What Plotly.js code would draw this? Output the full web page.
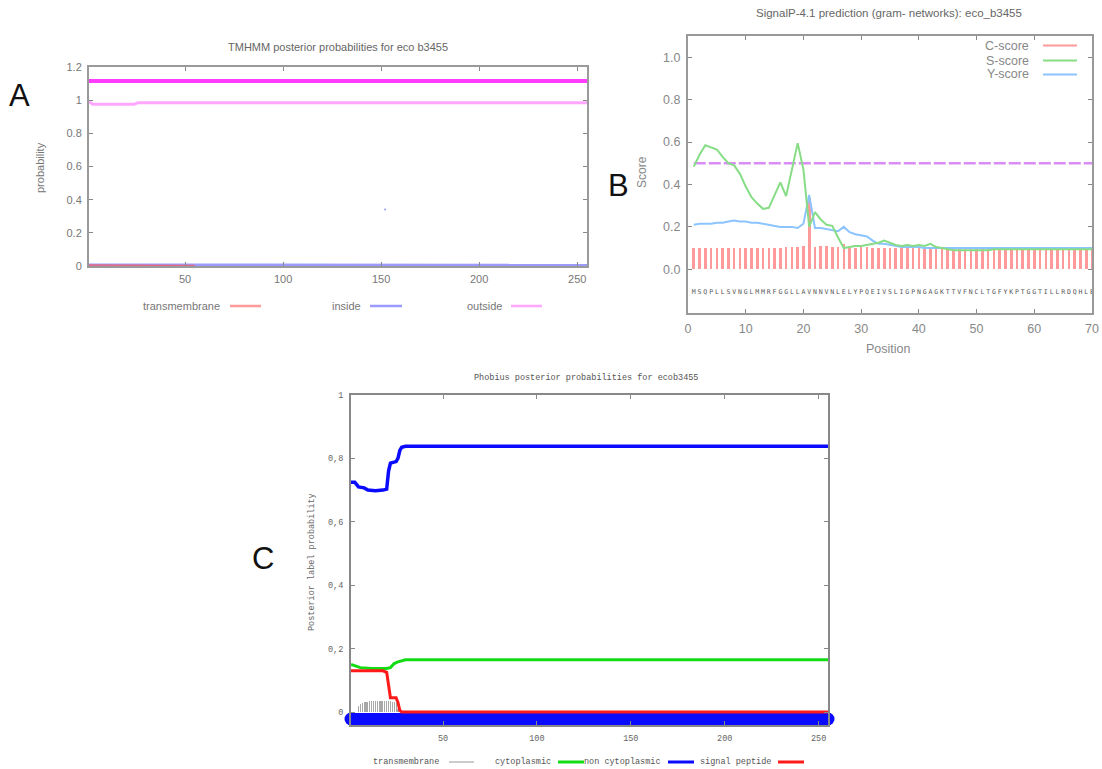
<!DOCTYPE html>
<html>
<head>
<meta charset="utf-8">
<script src="https://cdn.plot.ly/plotly-3.0.1.min.js"></script>
<style>html,body{margin:0;padding:0;background:#fff}#chart{width:1102px;height:769px}</style>
</head>
<body>
<div id="chart"></div>
<script>
// ---------- Panel A: TMHMM ----------
const tmhmmTitle = "TMHMM posterior probabilities for eco b3455";
const tmhmmNames = ["transmembrane", "inside", "outside"];
const tmhmmTopX = [1, 255];
const tmhmmTopY = [1.115, 1.115];
const outsideX = [1, 2, 3, 24, 26, 255];
const outsideY = [0.99, 0.98, 0.975, 0.975, 0.985, 0.985];
const insideX = [1, 25, 26, 255];
const insideY = [0.006, 0.006, 0.004, 0.004];
const tmX = [1, 25, 26, 55];
const tmY = [0.004, 0.004, 0.002, 0.001];
const strayX = [152];
const strayY = [0.34];
const tmhmmXTicks = [50, 100, 150, 200, 250];
const tmhmmYTicks = [0, 0.2, 0.4, 0.6, 0.8, 1, 1.2];
const tmhmmYTickText = ["0", "0.2", "0.4", "0.6", "0.8", "1", "1.2"];

// ---------- Panel B: SignalP ----------
const signalpTitle = "SignalP-4.1 prediction (gram- networks): eco_b3455";
const seqLetters = "MSQPLLSVNGLMMRFGGLLAVNNVNLELYPQEIVSLIGPNGAGKTTVFNCLTGFYKPTGGTILLRDQHLE".split("");
const scoreNames = ["C-score", "S-score", "Y-score"];
const cScore = [0.10,0.10,0.10,0.10,0.10,0.10,0.10,0.10,0.10,0.10,
                0.10,0.10,0.10,0.10,0.10,0.10,0.105,0.105,0.105,0.11,
                0.335,0.105,0.11,0.11,0.105,0.105,0.12,0.10,0.10,0.105,
                0.105,0.10,0.10,0.10,0.10,0.10,0.10,0.10,0.10,0.10,
                0.10,0.10,0.10,0.10,0.095,0.095,0.095,0.095,0.095,0.095,
                0.095,0.095,0.095,0.095,0.095,0.095,0.095,0.095,0.095,0.095,
                0.095,0.095,0.095,0.095,0.095,0.095,0.095,0.095,0.095,0.095];
const sScore = [0.484,0.54,0.585,0.575,0.565,0.53,0.50,0.49,0.45,0.39,
                0.34,0.31,0.285,0.29,0.35,0.41,0.345,0.47,0.595,0.47,
                0.20,0.27,0.235,0.21,0.205,0.15,0.10,0.105,0.11,0.11,
                0.115,0.12,0.125,0.135,0.125,0.115,0.11,0.115,0.11,0.115,
                0.11,0.12,0.105,0.10,0.095,0.09,0.09,0.09,0.09,0.09,
                0.09,0.09,0.095,0.095,0.095,0.095,0.095,0.095,0.095,0.095,
                0.095,0.095,0.095,0.095,0.095,0.095,0.095,0.095,0.095,0.095];
const yScore = [0.21,0.215,0.215,0.215,0.22,0.22,0.225,0.23,0.225,0.225,
                0.22,0.22,0.215,0.21,0.205,0.20,0.20,0.20,0.195,0.215,
                0.35,0.195,0.195,0.19,0.185,0.18,0.20,0.175,0.165,0.16,
                0.155,0.135,0.12,0.12,0.115,0.11,0.105,0.105,0.105,0.105,
                0.10,0.10,0.10,0.10,0.10,0.10,0.10,0.10,0.10,0.10,
                0.10,0.10,0.10,0.10,0.10,0.10,0.10,0.10,0.10,0.10,
                0.10,0.10,0.10,0.10,0.10,0.10,0.10,0.10,0.10,0.10];
const thresholdX = [1, 70];
const thresholdY = [0.5, 0.5];
const seqRowY = -0.11;
const signalpXTicks = [0, 10, 20, 30, 40, 50, 60, 70];
const signalpYTicks = [0, 0.2, 0.4, 0.6, 0.8, 1.0];

// ---------- Panel C: Phobius ----------
const phobiusTitle = "Phobius posterior probabilities for ecob3455";
const phobiusNames = ["transmembrane", "cytoplasmic", "non cytoplasmic", "signal peptide"];
const tmBarX = [5,6,7,8,9,10,11,12,13,14,15,16,17,18,19,20,21,22,23,24,25,26];
const tmBarY = [0.02,0.025,0.028,0.03,0.032,0.033,0.035,0.036,0.036,0.036,0.036,0.036,0.036,0.036,0.036,0.036,0.035,0.034,0.033,0.03,0.028,0.01];
const cytoX = [1, 3, 6, 12, 20, 22, 24, 26, 28, 30, 255];
const cytoY = [0.15, 0.145, 0.14, 0.137, 0.137, 0.14, 0.153, 0.158, 0.162, 0.165, 0.165];
const nonCytoX = [1, 3, 5, 8, 10, 14, 18, 20, 21, 22, 25, 26, 27, 28, 30, 255];
const nonCytoY = [0.725, 0.725, 0.71, 0.707, 0.70, 0.698, 0.70, 0.703, 0.76, 0.785, 0.79, 0.80, 0.825, 0.835, 0.838, 0.838];
const sigPepX = [1, 18, 20, 21, 22, 25, 26, 27, 28, 255];
const sigPepY = [0.13, 0.13, 0.125, 0.08, 0.045, 0.045, 0.03, 0.005, 0.0, 0.0];
const bandX = [1, 255];
const bandY = [-0.022, -0.022];
const phobiusXTicks = [50, 100, 150, 200, 250];
const phobiusYTicks = [0, 0.2, 0.4, 0.6, 0.8, 1];
const phobiusYTickText = ["0", "0,2", "0,4", "0,6", "0,8", "1"];

const positions = seqLetters.map((_, i) => i + 1);

// ---------- colours ----------
const col = {
  tmA: "#e06c88", insideA: "#9a9aff", outsideA: "#ffa6ff", topA: "#ff3cff",
  c: "#ff9a9a", s: "#86dd86", y: "#8cc4ff", thr: "#d98cf5",
  grayTM: "#a8a8a8", cyto: "#14dc14", nonCyto: "#0a0aff", sig: "#ff1a1a"
};

const traces = [
  // A
  {x: insideX, y: insideY, xaxis: "x", yaxis: "y", mode: "lines", line: {color: col.insideA, width: 3}, hoverinfo: "skip"},
  {x: tmX, y: tmY, xaxis: "x", yaxis: "y", mode: "lines", line: {color: col.tmA, width: 2}, hoverinfo: "skip"},
  {x: outsideX, y: outsideY, xaxis: "x", yaxis: "y", mode: "lines", line: {color: col.outsideA, width: 3}, hoverinfo: "skip"},
  {x: tmhmmTopX, y: tmhmmTopY, xaxis: "x", yaxis: "y", mode: "lines", line: {color: col.topA, width: 4}, hoverinfo: "skip"},
  {x: strayX, y: strayY, xaxis: "x", yaxis: "y", mode: "markers", marker: {color: col.insideA, size: 2}, hoverinfo: "skip"},
  // B
  {x: positions, y: cScore, xaxis: "x2", yaxis: "y2", type: "bar", width: 0.45, marker: {color: col.c}, hoverinfo: "skip"},
  {x: thresholdX, y: thresholdY, xaxis: "x2", yaxis: "y2", mode: "lines", line: {color: col.thr, width: 2.5, dash: "12px,3px"}, hoverinfo: "skip"},
  {x: positions, y: yScore, xaxis: "x2", yaxis: "y2", mode: "lines", line: {color: col.y, width: 2}, hoverinfo: "skip"},
  {x: positions, y: sScore, xaxis: "x2", yaxis: "y2", mode: "lines", line: {color: col.s, width: 2}, hoverinfo: "skip"},
  {x: positions, y: positions.map(() => seqRowY), text: seqLetters, xaxis: "x2", yaxis: "y2", mode: "text",
   textfont: {family: "DejaVu Sans Mono", size: 6.5, color: "#555"}, textposition: "middle center", hoverinfo: "skip"},
  // C
  {x: tmBarX, y: tmBarY, xaxis: "x3", yaxis: "y3", type: "bar", width: 0.6, marker: {color: col.grayTM}, hoverinfo: "skip"},
  {x: bandX, y: bandY, xaxis: "x3", yaxis: "y3", mode: "lines+markers", cliponaxis: false, line: {color: col.nonCyto, width: 12},
   marker: {color: col.nonCyto, size: 13}, hoverinfo: "skip"},
  {x: cytoX, y: cytoY, xaxis: "x3", yaxis: "y3", mode: "lines", line: {color: col.cyto, width: 3}, hoverinfo: "skip"},
  {x: sigPepX, y: sigPepY, xaxis: "x3", yaxis: "y3", mode: "lines", line: {color: col.sig, width: 3}, hoverinfo: "skip"},
  {x: nonCytoX, y: nonCytoY, xaxis: "x3", yaxis: "y3", mode: "lines", line: {color: col.nonCyto, width: 3.5}, hoverinfo: "skip"}
];

const W = 1102, H = 769;
const px = v => v / W;
const py = v => 1 - v / H;

const sans = "Liberation Sans, Arial, sans-serif";
const mono = "Liberation Mono, DejaVu Sans Mono, monospace";

function axisBase(extra) {
  return Object.assign({
    showline: true, mirror: "ticks", linecolor: "#9a9a9a", linewidth: 2,
    ticks: "inside", ticklen: 4, tickcolor: "#888", tickwidth: 1,
    showgrid: false, zeroline: false, fixedrange: true
  }, extra);
}

const layout = {
  width: W, height: H, autosize: false,
  margin: {l: 0, r: 0, t: 0, b: 0},
  paper_bgcolor: "#fff", plot_bgcolor: "#fff",
  showlegend: false, bargap: 0,
  xaxis: axisBase({domain: [px(89), px(587)], range: [1, 255], anchor: "y",
    tickvals: tmhmmXTicks, tickfont: {family: sans, size: 11, color: "#777"}, ticklabelstandoff: 2}),
  yaxis: axisBase({domain: [py(266), py(67)], range: [0, 1.2], anchor: "x",
    tickvals: tmhmmYTicks, ticktext: tmhmmYTickText, tickfont: {family: sans, size: 11, color: "#777"}, ticklabelstandoff: 3}),
  xaxis2: axisBase({domain: [px(688), px(1092)], range: [0, 70], anchor: "y2", linecolor: "#999",
    tickvals: signalpXTicks, tickfont: {family: sans, size: 12.5, color: "#888"}, ticklabelstandoff: 3}),
  yaxis2: axisBase({domain: [py(313), py(36)], range: [-0.206, 1.1], anchor: "x2", linecolor: "#999",
    tickvals: signalpYTicks, tickformat: ".1f", tickfont: {family: sans, size: 12.5, color: "#888"}, ticklabelstandoff: 3}),
  xaxis3: axisBase({domain: [px(351), px(828)], range: [1, 255], anchor: "y3", linecolor: "#888",
    tickvals: phobiusXTicks, tickfont: {family: mono, size: 8.5, color: "#666"}, ticklabelstandoff: 4}),
  yaxis3: axisBase({domain: [py(725), py(395)], range: [-0.041, 1], anchor: "x3", linecolor: "#888",
    tickvals: phobiusYTicks, ticktext: phobiusYTickText, tickfont: {family: mono, size: 8.5, color: "#666"}, ticklabelstandoff: 4}),
  annotations: [],
  shapes: []
};

const ann = layout.annotations, shp = layout.shapes;
function text(t, x, y, opts) {
  ann.push(Object.assign({text: t, x: px(x), y: py(y), xref: "paper", yref: "paper", showarrow: false,
    xanchor: "center", yanchor: "middle", font: {family: sans, size: 11, color: "#666"}}, opts || {}));
}
function seg(x0, x1, y, color, width) {
  shp.push({type: "line", xref: "paper", yref: "paper", x0: px(x0), x1: px(x1), y0: py(y), y1: py(y),
    line: {color: color, width: width}});
}

// Panel letters
text("A", 19, 95, {font: {family: sans, size: 31, color: "#111"}});
text("B", 618, 185, {font: {family: sans, size: 31, color: "#111"}});
text("C", 263, 558, {font: {family: sans, size: 31, color: "#111"}});

// Panel A texts
text(tmhmmTitle, 338, 47, {font: {family: sans, size: 11, color: "#666"}});
text("probability", 40, 168, {textangle: -90, font: {family: sans, size: 11, color: "#777"}});
text(tmhmmNames[0], 222, 306, {xanchor: "right", font: {family: sans, size: 11, color: "#777"}});
seg(230, 261, 306, "#ff9a9a", 2.5);
text(tmhmmNames[1], 363, 306, {xanchor: "right", font: {family: sans, size: 11, color: "#777"}});
seg(370, 402, 306, col.insideA, 2.5);
text(tmhmmNames[2], 504, 306, {xanchor: "right", font: {family: sans, size: 11, color: "#777"}});
seg(511, 542, 306, col.outsideA, 2.5);

// Panel B texts
text(signalpTitle, 889, 13, {font: {family: sans, size: 11.5, color: "#666"}});
text("Score", 642, 172, {textangle: -90, font: {family: sans, size: 12, color: "#888"}});
text("Position", 888, 349, {font: {family: sans, size: 12.5, color: "#888"}});
const legB = [col.c, col.s, col.y];
const legBy = [45.5, 60.5, 74.5];
scoreNames.forEach((n, i) => {
  text(n, 1031, legBy[i], {xanchor: "right", font: {family: sans, size: 12.5, color: "#888"}});
  seg(1043, 1077, legBy[i], legB[i], 2);
});

// Panel C texts
text(phobiusTitle, 586, 378, {font: {family: mono, size: 8.5, color: "#555"}});
text("Posterior label probability", 312, 562, {textangle: -90, font: {family: mono, size: 8.5, color: "#666"}});
const legC = [
  {tx: 441, l0: 449, l1: 474, c: "#bbbbbb", w: 1.5},
  {tx: 553, l0: 558, l1: 584, c: col.cyto, w: 3},
  {tx: 663, l0: 668, l1: 694, c: col.nonCyto, w: 3},
  {tx: 773, l0: 778, l1: 804, c: col.sig, w: 3}
];
phobiusNames.forEach((n, i) => {
  text(n, legC[i].tx, 762, {xanchor: "right", font: {family: mono, size: 8.5, color: "#555"}});
  seg(legC[i].l0, legC[i].l1, 762, legC[i].c, legC[i].w);
});

Plotly.newPlot("chart", traces, layout, {staticPlot: true, displayModeBar: false});
</script>
</body>
</html>
